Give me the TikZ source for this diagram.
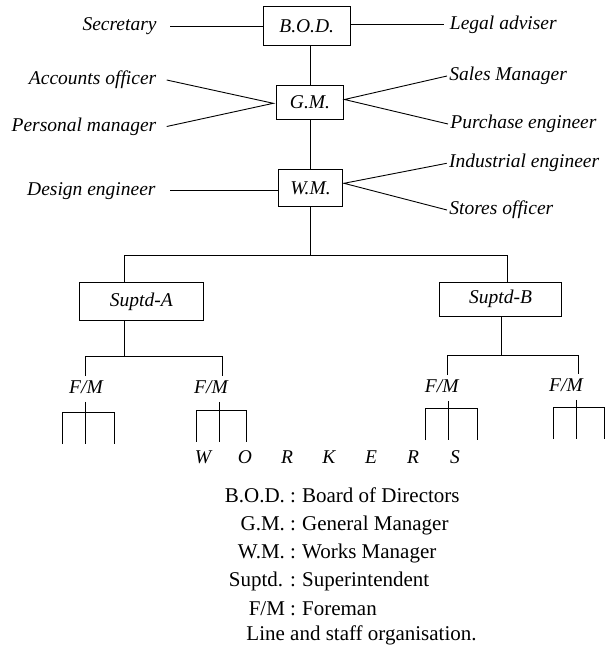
\documentclass[tikz,border=0pt]{standalone}
\usepackage{fontspec}
\setmainfont{Liberation Serif}
\usetikzlibrary{positioning,calc}

\tikzset{
  post/.style={draw, inner sep=0pt, font=\fontsize{19.5}{22}\selectfont\itshape},
  staff/.style={inner ysep=0pt, text height=13pt, text depth=4pt, font=\fontsize{19.5}{22}\selectfont\itshape},
  lstaff/.style={staff, anchor=east, inner xsep=12pt},
  rstaff/.style={staff, anchor=west, inner xsep=2pt},
  fm/.style={staff, inner ysep=4pt},
  key/.style={inner sep=0pt, font=\fontsize{21}{24}\selectfont}
}

\begin{document}
\begin{tikzpicture}[x=1pt, y=-1pt, line width=0.9pt]
\fill[white] (0,0) rectangle (605,651);
\useasboundingbox (0,0) rectangle (605,651);

% Line posts
\node[post, minimum width=86.7pt, minimum height=38.3pt] (bod) at (306.7,25.8) {B.O.D.};
\node[post, minimum width=66.6pt, minimum height=34.3pt] (gm) at (310,102.2) {G.M.};
\node[post, minimum width=64.4pt, minimum height=37.4pt] (wm) at (310.5,188) {W.M.};
\node[post, minimum width=124.6pt, minimum height=38pt] (sa) at (141.4,301.7) {Suptd-A};
\node[post, minimum width=121.5pt, minimum height=33.3pt] (sb) at (500.6,299.3) {Suptd-B};

% Staff on the left
\node[lstaff, inner xsep=13pt] (sec) at (170,26) {Secretary};
\node[lstaff, inner xsep=10pt] (acc) at (166.7,80) {Accounts officer};
\node[lstaff, inner xsep=10pt] (pers) at (166.7,126.5) {Personal manager};
\node[lstaff, inner xsep=14pt] (des) at (170,190.5) {Design engineer};

% Staff on the right
\node[rstaff, inner xsep=6pt] (legal) at (443.5,24.5) {Legal adviser};
\node[rstaff] (sales) at (447,76) {Sales Manager};
\node[rstaff] (purch) at (448,124) {Purchase engineer};
\node[rstaff] (ind) at (446.7,163.3) {Industrial engineer};
\node[rstaff] (store) at (447,210) {Stores officer};

% Staff links
\coordinate (gml) at (273.3,103.3);
\coordinate (gmr) at (344.5,99.5);
\coordinate (wmr) at (344,183.3);
\draw (sec.east) -- (sec.east -| bod.west);
\draw (bod.east |- legal.west) -- (legal.west);
\draw (acc.east) -- (gml) -- (pers.east);
\draw (sales.west) -- (gmr) -- (purch.west);
\draw (des.east) -- (des.east -| wm.west);
\draw (ind.west) -- (wmr) -- (store.west);

% Line of command
\draw (gm.north) -- (gm.north |- bod.south);
\draw (wm.north) -- (wm.north |- gm.south);
\coordinate (busA) at (124.2,255);
\coordinate (busB) at (507.3,255);
\draw (wm.south) -- (wm.south |- busA);
\draw (sa.north -| busA) -- (busA) -- (busB) -- (sb.north -| busB);

% Foremen
\node[fm] (fa1) at (86,389) {F/M};
\node[fm] (fa2) at (211,389) {F/M};
\node[fm] (fb1) at (441.7,388) {F/M};
\node[fm] (fb2) at (566,387) {F/M};

\coordinate (ja) at (124.2,356.7);
\coordinate (a1) at (85,356.7);
\coordinate (a2) at (222,356.7);
\draw (sa.south -| ja) -- (ja);
\draw (fa1.north -| a1) -- (a1) -- (a2) -- (fa2.north -| a2);
\coordinate (jb) at (501.5,355);
\coordinate (b1) at (447.5,355);
\coordinate (b2) at (578.5,355);
\draw (sb.south -| jb) -- (jb);
\draw (fb1.north -| b1) -- (b1) -- (b2) -- (fb2.north -| b2);

% Workers under each foreman
\foreach \f/\c/\l/\r/\yb/\ye in {fa1/85/62.7/114/412/444, fa2/219.3/196.7/246.9/410.7/441.7,
    fb1/448.3/425.7/477.7/408.3/440, fb2/576.7/553.3/604/407.3/439}
  \draw (\f.south -| \c,0) -- (\c,\ye) (\l,\ye) -- (\l,\yb) -- (\r,\yb) -- (\r,\ye);

\foreach \w [count=\i] in {W,O,R,K,E,R,S}
  \node[staff] (wk\i) at ({161+42*\i},459) {\w};

% Key
\node[key, anchor=base east] (kbod) at (296.5,502) {B.O.D. :};
\node[key, anchor=base west] (vbod) at (301.7,502) {Board of Directors};
\node[key, anchor=base east] (kgm) at (296.5,530.3) {G.M. :};
\node[key, anchor=base west] (vgm) at (301.7,530.3) {General Manager};
\node[key, anchor=base east] (kwm) at (296.5,558.6) {W.M. :};
\node[key, anchor=base west] (vwm) at (301.7,558.6) {Works Manager};
\node[key, anchor=base east] (ksup) at (296.5,586.9) {Suptd. :};
\node[key, anchor=base west] (vsup) at (301.7,586.9) {Superintendent};
\node[key, anchor=base east] (kfm) at (296.5,615.2) {F/M :};
\node[key, anchor=base west] (vfm) at (301.7,615.2) {Foreman};
\node[key, anchor=base west] (cap) at (246,640) {Line and staff organisation.};
\end{tikzpicture}
\end{document}
